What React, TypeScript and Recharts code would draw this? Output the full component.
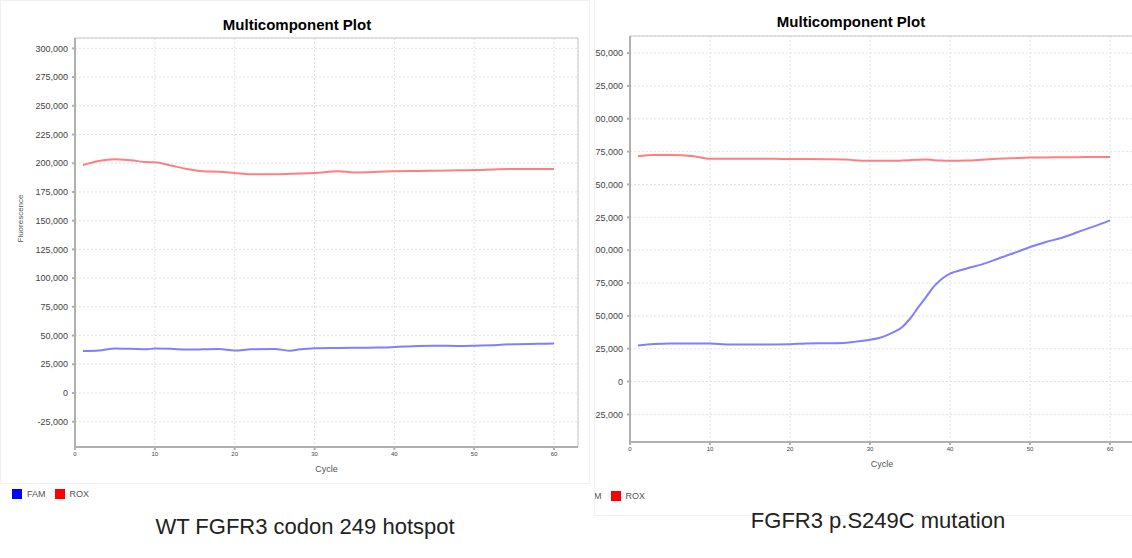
import React from 'react'
import {
  LineChart,
  Line,
  XAxis,
  YAxis,
  CartesianGrid,
  ReferenceArea,
} from 'recharts'

// WT panel
const wtCycles = [1, 3, 5, 7, 9, 10, 12, 14, 16, 18, 20, 22, 25, 27, 28, 30, 33, 35, 38, 40, 43, 45, 48, 50, 53, 55, 58, 60]
const wtRox = [198500, 202000, 203500, 202500, 201000, 200800, 198000, 195000, 193000, 192500, 191500, 190500, 190500, 190800, 191000, 191500, 193000, 192000, 192500, 193000, 193300, 193500, 193800, 194000, 194800, 195000, 195000, 195000]
const wtFam = [36500, 37000, 38800, 38500, 38000, 38800, 38500, 37800, 38000, 38300, 37000, 38000, 38300, 36800, 37800, 39000, 39200, 39300, 39500, 40000, 41000, 41200, 41000, 41200, 41800, 42500, 42800, 43000]

// mutation panel
const mutCycles = [1, 3, 5, 8, 10, 12, 15, 18, 20, 22, 25, 27, 28, 30, 31, 32, 33, 34, 35, 36, 37, 38, 39, 40, 42, 44, 46, 48, 50, 52, 54, 56, 58, 60]
const mutRox = [171500, 172500, 172500, 171500, 169500, 169500, 169500, 169500, 169300, 169300, 169200, 169000, 168500, 168000, 168000, 168000, 168000, 168200, 168500, 168800, 169000, 168500, 168200, 168000, 168200, 168800, 169500, 170000, 170500, 170600, 170700, 170800, 171000, 171000]
const mutFam = [27400, 28500, 29000, 29000, 29000, 28300, 28200, 28300, 28400, 29000, 29200, 29600, 30200, 31800, 33000, 35000, 37800, 41400, 47800, 56200, 64300, 72400, 78300, 82100, 85900, 89200, 93500, 97800, 102400, 106200, 109500, 113800, 118100, 122700]

const xTicks = [0, 10, 20, 30, 40, 50, 60]
const wtYTicks = [-25000, 0, 25000, 50000, 75000, 100000, 125000, 150000, 175000, 200000, 225000, 250000, 275000, 300000]
const mutYTicks = [-25000, 0, 25000, 50000, 75000, 100000, 125000, 150000, 175000, 200000, 225000, 250000]

const FONT = 'Arial, "Liberation Sans", sans-serif'
const ROX_COLOR = '#ff7f7f'
const FAM_COLOR = '#7f7fff'

const fmt = (v: number) => v.toLocaleString('en-US')

function toRows(cycles: number[], fam: number[], rox: number[]) {
  return cycles.map((c, i) => ({ cycle: c, fam: fam[i], rox: rox[i] }))
}

interface PanelProps {
  data: { cycle: number; fam: number; rox: number }[]
  yDomain: [number, number]
  yTicks: number[]
  width: number
  height: number
  top: number
  right: number
  showYLabel: boolean
}

function Panel({ data, yDomain, yTicks, width, height, top, right, showYLabel }: PanelProps) {
  return (
    <LineChart
      width={width}
      height={height}
      data={data}
      margin={{ top, right, bottom: 0, left: 0 }}
    >
      <CartesianGrid stroke="#e2e2e2" strokeDasharray="2 2" />
      <ReferenceArea
        x1={0}
        x2={63}
        y1={yDomain[0]}
        y2={yDomain[1]}
        fill="none"
        stroke="#c8c8c8"
        strokeWidth={1}
      />
      <XAxis
        dataKey="cycle"
        type="number"
        domain={[0, 63]}
        ticks={xTicks}
        height={28}
        tickSize={3}
        tickMargin={2}
        stroke="#b0b0b0"
        strokeWidth={2}
        tick={{ fontSize: 6, fill: '#444', fontFamily: FONT }}
        label={{ value: 'Cycle', position: 'insideBottom', offset: 3, fontSize: 9, fill: '#555', fontFamily: FONT }}
      />
      <YAxis
        type="number"
        domain={yDomain}
        ticks={yTicks}
        width={75}
        tickSize={3}
        tickMargin={4}
        stroke="#b0b0b0"
        strokeWidth={2}
        tickFormatter={fmt}
        tick={{ fontSize: 9, fill: '#444', fontFamily: FONT }}
        label={showYLabel ? { value: 'Fluorescence', angle: -90, position: 'insideLeft', offset: 20, fontSize: 8, fill: '#555', fontFamily: FONT } : undefined}
      />
      <Line dataKey="rox" type="monotone" stroke={ROX_COLOR} strokeWidth={2} dot={false} isAnimationActive={false} />
      <Line dataKey="fam" type="monotone" stroke={FAM_COLOR} strokeWidth={2} dot={false} isAnimationActive={false} />
    </LineChart>
  )
}

function LegendRow({ left, top }: { left: number; top: number }) {
  const item = (color: string, name: string) => (
    <span style={{ display: 'inline-flex', alignItems: 'center', marginRight: 9 }}>
      <span style={{ width: 10, height: 10, background: color, display: 'inline-block', marginRight: 5 }} />
      <span style={{ fontSize: 9, color: '#555' }}>{name}</span>
    </span>
  )
  return (
    <div style={{ position: 'absolute', left, top, fontFamily: FONT, display: 'flex', whiteSpace: 'nowrap' }}>
      {item('#0000ff', 'FAM')}
      {item('#ff0000', 'ROX')}
    </div>
  )
}

export default function App() {
  const wtData = toRows(wtCycles, wtFam, wtRox)
  const mutData = toRows(mutCycles, mutFam, mutRox)

  return (
    <div style={{ position: 'fixed', left: 0, top: 0, width: 1132, height: 558, background: '#fff', overflow: 'hidden', fontFamily: FONT }}>
      {/* left panel */}
      <div style={{ position: 'absolute', left: 0, top: 0, width: 590, height: 484, border: '1px solid #f0f0f0', boxSizing: 'border-box' }} />
      <div style={{ position: 'absolute', left: 0, top: 0 }}>
        <Panel data={wtData} yDomain={[-47000, 309000]} yTicks={wtYTicks} width={590} height={475} top={38} right={12} showYLabel />
      </div>
      <div style={{ position: 'absolute', left: 0, width: 594, top: 16, textAlign: 'center', fontWeight: 'bold', fontSize: 15, lineHeight: '18px' }}>
        Multicomponent Plot
      </div>
      <LegendRow left={12} top={489} />
      <div style={{ position: 'absolute', left: 0, width: 610, top: 514, textAlign: 'center', fontSize: 22, lineHeight: '26px', color: '#222' }}>
        WT FGFR3 codon 249 hotspot
      </div>

      {/* right panel, cropped on its left side as in the source image */}
      <div style={{ position: 'absolute', left: 594, top: 0, width: 538, height: 516, overflow: 'hidden', borderLeft: '1px solid #f0f0f0', borderBottom: '1px solid #f0f0f0', boxSizing: 'border-box' }}>
        <div style={{ position: 'absolute', left: -40, top: 0 }}>
          <Panel data={mutData} yDomain={[-46000, 263000]} yTicks={mutYTicks} width={579} height={470} top={36} right={0} showYLabel={false} />
        </div>
        <div style={{ position: 'absolute', left: 96, width: 320, top: 13, textAlign: 'center', fontWeight: 'bold', fontSize: 15, lineHeight: '18px' }}>
          Multicomponent Plot
        </div>
        <LegendRow left={-27} top={491} />
      </div>
      <div style={{ position: 'absolute', left: 594, width: 568, top: 508, textAlign: 'center', fontSize: 22, lineHeight: '26px', color: '#222' }}>
        FGFR3 p.S249C mutation
      </div>
    </div>
  )
}
